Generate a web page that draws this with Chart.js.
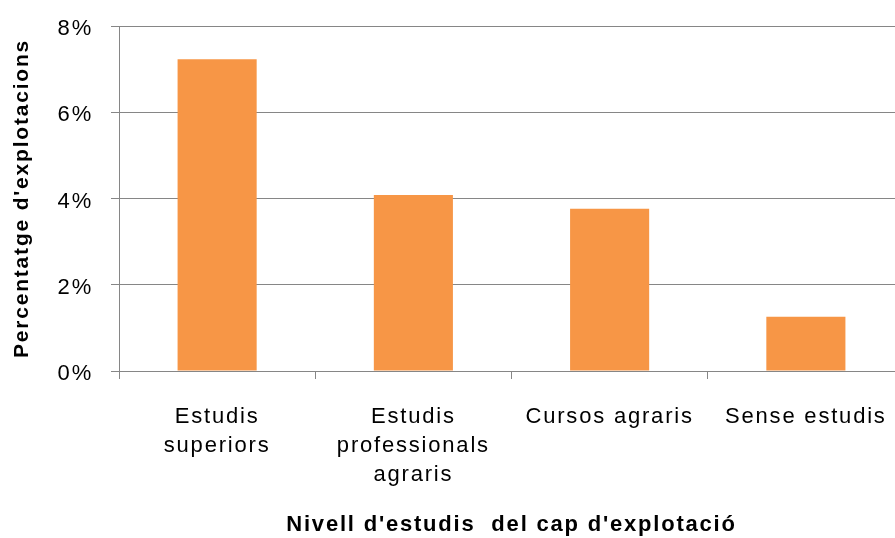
<!DOCTYPE html>
<html>
<head>
<meta charset="utf-8">
<script src="https://cdn.jsdelivr.net/npm/chart.js@4"></script>
<style>
  html, body { margin: 0; padding: 0; background: #fff; overflow: hidden; }
  canvas { display: block; }
</style>
</head>
<body>
<canvas id="container" width="904" height="538"></canvas>
<script>
// dades llegides del gràfic
const categories = [
  ["Estudis", "superiors"],
  ["Estudis", "professionals", "agraris"],
  "Cursos agraris",
  "Sense estudis",
];
const percentatges = [7.23, 4.08, 3.76, 1.26];
const yTicks = [0, 2, 4, 6, 8];

const gris = "#868686";
const taronja = "#F79646";
const fontFamily = "'Liberation Sans', Arial, sans-serif";

// espaiat de lletres com a l'original
const spacing = {
  id: "spacing",
  beforeUpdate(chart) { chart.ctx.letterSpacing = "1.8px"; },
  beforeDraw(chart) { chart.ctx.letterSpacing = "1.8px"; },
};

const ctx = document.getElementById("container");
const myChart = new Chart(ctx, {
  type: "bar",
  data: {
    labels: categories,
    datasets: [
      {
        label: "Percentatge d'explotacions",
        data: percentatges,
        backgroundColor: taronja,
        borderWidth: 0,
        barPercentage: 0.403,
        categoryPercentage: 1,
      },
    ],
  },
  plugins: [spacing],
  options: {
    responsive: false,
    animation: false,
    layout: { padding: { top: 26, right: 0, bottom: 0, left: 0 } },
    plugins: {
      legend: { display: false },
      tooltip: { enabled: false },
    },
    scales: {
      x: {
        offset: true,
        grid: {
          offset: true,
          drawOnChartArea: false,
          drawTicks: true,
          tickLength: 8,
          color: gris,
        },
        border: { color: gris, width: 1 },
        ticks: {
          color: "#000",
          padding: 24,
          maxRotation: 0,
          autoSkip: false,
          font: { family: fontFamily, size: 22, lineHeight: 1.3 },
        },
        title: {
          display: true,
          text: "Nivell d'estudis  del cap d'explotació",
          color: "#000",
          padding: { top: 0, bottom: 0 },
          font: { family: fontFamily, size: 22, weight: "bold" },
        },
        afterFit: (scale) => {
          scale.height = 167;
          scale.paddingLeft = 0;
          scale.paddingRight = 0;
        },
      },
      y: {
        min: 0,
        max: 8,
        afterBuildTicks: (scale) => {
          scale.ticks = yTicks.map((v) => ({ value: v }));
        },
        grid: {
          color: gris,
          tickLength: 8,
        },
        border: { color: gris, width: 1 },
        ticks: {
          color: "#000",
          padding: 18,
          labelOffset: 3,
          font: { family: fontFamily, size: 22 },
          callback: (v) => v + "%",
        },
        title: {
          display: true,
          text: "Percentatge d'explotacions",
          color: "#000",
          padding: { top: 10, bottom: 0 },
          font: { family: fontFamily, size: 21, weight: "bold" },
        },
        afterFit: (scale) => {
          scale.width = 119;
          scale.paddingTop = 0;
          scale.paddingBottom = 0;
        },
      },
    },
  },
});
</script>
</body>
</html>
